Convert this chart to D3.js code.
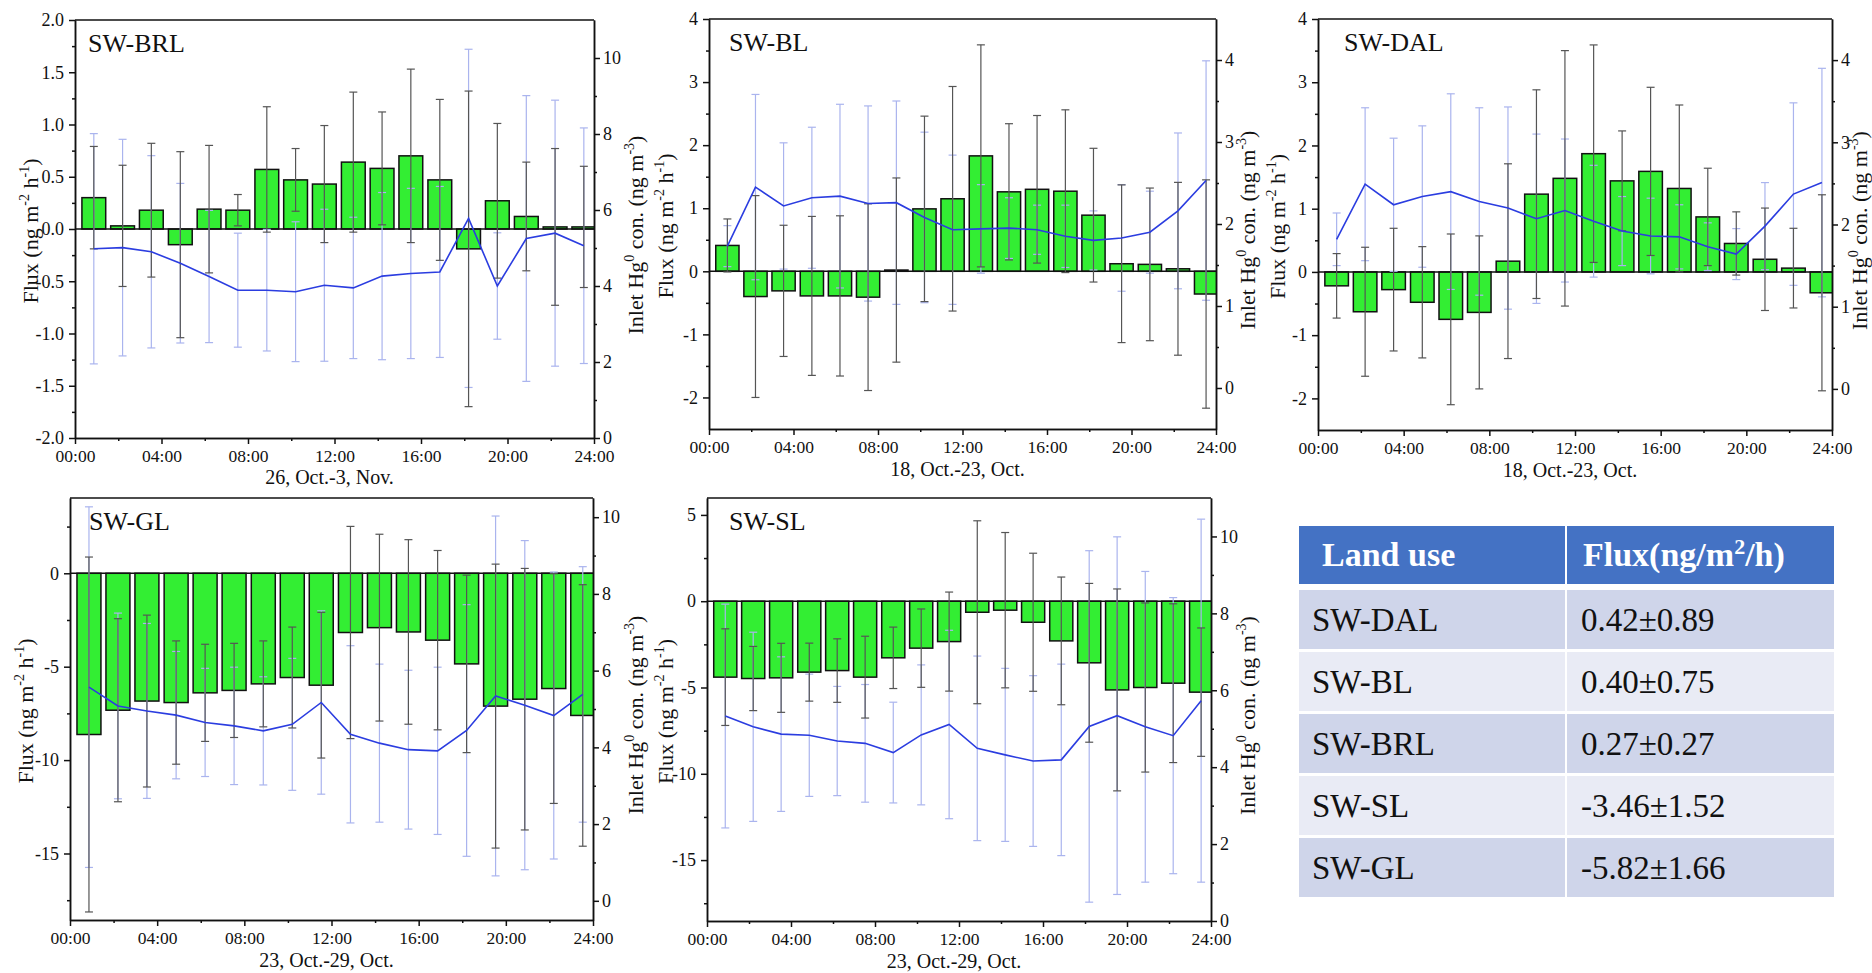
<!DOCTYPE html>
<html>
<head>
<meta charset="utf-8">
<script src="https://cdn.jsdelivr.net/npm/d3@7"></script>
<style>
  body { margin: 0; background: #fff; }
  svg text { font-family: "Liberation Serif", "Times New Roman", serif; }
</style>
</head>
<body>
<div id="chart"></div>
<script>
// hour of day at the centre of each averaging bin
var hours = [0.87, 2.2, 3.53, 4.87, 6.2, 7.53, 8.87, 10.2, 11.53, 12.87, 14.2, 15.53, 16.87, 18.2, 19.53, 20.87, 22.2, 23.53];
var timeTicks = [0, 4, 8, 12, 16, 20, 24];
var timeLabels = ["00:00", "04:00", "08:00", "12:00", "16:00", "20:00", "24:00"];

// SW-BRL
var brlFlux = [0.30, 0.03, 0.18, -0.15, 0.19, 0.18, 0.57, 0.47, 0.43, 0.64, 0.58, 0.70, 0.47, -0.19, 0.27, 0.12, 0.02, 0.02];
var brlFluxSd = [0.49, 0.58, 0.64, 0.89, 0.61, 0.15, 0.60, 0.30, 0.56, 0.67, 0.54, 0.83, 0.77, 1.51, 0.74, 0.52, 0.75, 0.58];
var brlConc = [4.98, 5.01, 4.90, 4.60, 4.25, 3.89, 3.89, 3.85, 4.02, 3.95, 4.26, 4.33, 4.37, 5.78, 4.00, 5.25, 5.39, 5.06];
var brlConcSd = [3.03, 2.85, 2.53, 2.10, 1.74, 1.50, 1.60, 1.84, 2.00, 1.86, 2.20, 2.24, 2.25, 4.45, 1.40, 3.76, 3.50, 3.10];

// SW-BL
var blFlux = [0.41, -0.40, -0.31, -0.39, -0.39, -0.41, 0.02, 0.99, 1.15, 1.83, 1.26, 1.30, 1.27, 0.89, 0.12, 0.11, 0.04, -0.36];
var blFluxSd = [0.42, 1.60, 1.04, 1.26, 1.27, 1.48, 1.46, 1.47, 1.78, 1.76, 1.08, 1.17, 1.29, 1.06, 1.25, 1.21, 1.37, 1.81];
var blConc = [1.73, 2.45, 2.22, 2.32, 2.34, 2.25, 2.26, 2.08, 1.93, 1.94, 1.95, 1.93, 1.85, 1.80, 1.83, 1.90, 2.16, 2.53];
var blConcSd = [0.25, 1.13, 0.77, 0.86, 1.12, 1.19, 1.24, 1.04, 0.91, 0.54, 0.37, 0.30, 0.38, 0.36, 0.65, 0.50, 0.95, 1.46];

// SW-DAL
var dalFlux = [-0.22, -0.63, -0.28, -0.48, -0.75, -0.64, 0.17, 1.23, 1.48, 1.87, 1.44, 1.59, 1.32, 0.87, 0.45, 0.20, 0.06, -0.33];
var dalFluxSd = [0.51, 1.02, 0.97, 0.88, 1.35, 1.21, 1.54, 1.65, 2.02, 1.72, 0.79, 1.33, 1.32, 0.77, 0.50, 0.81, 0.63, 1.55];
var dalConc = [1.82, 2.49, 2.24, 2.34, 2.40, 2.28, 2.20, 2.07, 2.17, 2.04, 1.92, 1.86, 1.85, 1.73, 1.64, 1.98, 2.37, 2.51];
var dalConcSd = [0.32, 0.93, 0.81, 0.86, 1.19, 1.14, 1.23, 1.03, 0.87, 0.68, 0.42, 0.46, 0.39, 0.29, 0.31, 0.53, 1.11, 1.39];

// SW-GL
var glFlux = [-8.63, -7.33, -6.84, -6.92, -6.40, -6.27, -5.92, -5.58, -5.99, -3.17, -2.91, -3.14, -3.58, -4.85, -7.11, -6.74, -6.17, -7.61];
var glFluxSd = [9.5, 4.9, 4.6, 3.3, 2.6, 2.52, 2.3, 2.7, 3.9, 5.68, 5.0, 4.94, 4.8, 4.75, 7.6, 7.0, 6.15, 7.0];
var glConc = [5.57, 5.08, 4.95, 4.84, 4.65, 4.56, 4.43, 4.60, 5.17, 4.34, 4.11, 3.94, 3.91, 4.44, 5.34, 5.10, 4.83, 5.38];
var glConcSd = [4.70, 2.42, 2.28, 1.66, 1.41, 1.53, 1.41, 1.72, 2.39, 2.31, 2.06, 2.07, 2.18, 3.28, 4.69, 4.29, 3.74, 3.33];

// SW-SL
var slFlux = [-4.40, -4.48, -4.44, -4.11, -4.02, -4.40, -3.28, -2.72, -2.34, -0.64, -0.52, -1.22, -2.30, -3.57, -5.14, -5.00, -4.75, -5.27];
var slFluxSd = [2.8, 1.86, 2.0, 1.68, 1.84, 2.37, 1.78, 2.27, 2.87, 5.3, 4.5, 4.0, 3.7, 4.6, 5.85, 4.9, 4.6, 3.72];
var slConc = [5.33, 5.05, 4.86, 4.83, 4.68, 4.62, 4.38, 4.84, 5.11, 4.49, 4.32, 4.16, 4.19, 5.06, 5.34, 5.05, 4.82, 5.73];
var slConcSd = [2.91, 2.46, 2.01, 1.59, 1.42, 1.53, 1.31, 1.82, 2.45, 2.40, 2.25, 2.22, 2.49, 4.57, 4.65, 4.04, 3.59, 4.72];

// summary table
var landUse = ["SW-DAL", "SW-BL", "SW-BRL", "SW-SL", "SW-GL"];
var meanFlux = ["0.42\u00b10.89", "0.40\u00b10.75", "0.27\u00b10.27", "-3.46\u00b11.52", "-5.82\u00b11.66"];

var barWidth = 1.1; // hours
var green = "#33ee33", lineBlue = "#2b3de0", fluxErr = "#555555", concErr = "#aab4ee";

var svg = d3.select("#chart")
    .append("svg")
    .attr("width", 1872)
    .attr("height", 973);

// rotated title with superscripts; parts: [text, isSuperscript]
function vLabel(x, y, parts) {
    var t = svg.append("text")
        .attr("transform", "translate(" + x + "," + y + ") rotate(-90)")
        .attr("text-anchor", "middle")
        .attr("font-size", 22)
        .attr("fill", "#111");
    var up = false;
    parts.forEach(function (p) {
        var s = t.append("tspan").text(p[0]);
        if (p[1] && !up) { s.attr("dy", -9).attr("font-size", 14); up = true; }
        else if (p[1]) { s.attr("font-size", 14); }
        else if (up) { s.attr("dy", 9); up = false; }
    });
}
var fluxTitle = [["Flux (ng m"], ["-2", 1], [" h"], ["-1", 1], [")"]];
var concTitle = [["Inlet Hg"], ["0", 1], [" con. (ng m"], ["-3", 1], [")"]];

function styleAxis(g, size) {
    g.attr("font-family", "Liberation Serif, serif").attr("font-size", size);
    g.selectAll("path, line").attr("stroke", "#111").attr("stroke-width", 1.5);
    g.selectAll("text").attr("fill", "#111");
}

function drawPanel(p) {
    var x = d3.scaleLinear().domain([0, 24]).range([p.left, p.right]);
    var y = d3.scaleLinear().domain(p.yDomain).range([p.bottom, p.top]);
    var y2 = d3.scaleLinear().domain(p.y2Domain).range([p.bottom, p.top]);

    svg.append("clipPath").attr("id", "clip-" + p.id)
        .append("rect")
        .attr("x", p.left).attr("y", p.top)
        .attr("width", p.right - p.left).attr("height", p.bottom - p.top);

    var plot = svg.append("g").attr("clip-path", "url(#clip-" + p.id + ")");

    // bars
    plot.selectAll("rect.bar")
        .data(p.flux)
        .enter()
        .append("rect")
        .attr("class", "bar")
        .attr("x", function (d, i) { return x(hours[i] - barWidth / 2); })
        .attr("width", x(barWidth) - x(0))
        .attr("y", function (d) { return y(Math.max(0, d)); })
        .attr("height", function (d) { return Math.abs(y(d) - y(0)); })
        .attr("fill", green)
        .attr("stroke", "#111")
        .attr("stroke-width", 1.5);

    // zero line
    plot.append("line")
        .attr("x1", p.left).attr("x2", p.right)
        .attr("y1", y(0)).attr("y2", y(0))
        .attr("stroke", "#111").attr("stroke-width", 1.5);

    // error bars: concentration (light blue) then flux (dark)
    function errorBars(vals, sds, scale, color) {
        var eg = plot.append("g").attr("stroke", color).attr("stroke-width", 1.2).attr("fill", "none");
        vals.forEach(function (v, i) {
            var cx = x(hours[i]), lo = scale(v - sds[i]), hi = scale(v + sds[i]);
            eg.append("line").attr("x1", cx).attr("x2", cx).attr("y1", lo).attr("y2", hi);
            eg.append("line").attr("x1", cx - 4).attr("x2", cx + 4).attr("y1", lo).attr("y2", lo);
            eg.append("line").attr("x1", cx - 4).attr("x2", cx + 4).attr("y1", hi).attr("y2", hi);
        });
    }
    errorBars(p.conc, p.concSd, y2, concErr);
    errorBars(p.flux, p.fluxSd, y, fluxErr);

    // concentration line
    var line = d3.line()
        .x(function (d, i) { return x(hours[i]); })
        .y(function (d) { return y2(d); });
    plot.append("path")
        .datum(p.conc)
        .attr("d", line)
        .attr("fill", "none")
        .attr("stroke", lineBlue)
        .attr("stroke-width", 1.6);

    // axes
    var fmt = d3.format(p.yFormat);
    var ax = svg.append("g").attr("transform", "translate(" + p.left + ",0)")
        .call(d3.axisLeft(y).tickValues(p.yTicks).tickSize(6).tickPadding(5).tickSizeOuter(0)
            .tickFormat(function (d) { return fmt(d).replace("\u2212", "-"); }));
    styleAxis(ax, 18);
    var axm = svg.append("g").attr("transform", "translate(" + p.left + ",0)")
        .call(d3.axisLeft(y).tickValues(p.yMinor).tickSize(3).tickFormat("").tickSizeOuter(0));
    styleAxis(axm, 18);

    var ar = svg.append("g").attr("transform", "translate(" + p.right + ",0)")
        .call(d3.axisRight(y2).tickValues(p.y2Ticks).tickSize(6).tickPadding(3).tickSizeOuter(0)
            .tickFormat(d3.format("d")));
    styleAxis(ar, 18);
    var arm = svg.append("g").attr("transform", "translate(" + p.right + ",0)")
        .call(d3.axisRight(y2).tickValues(p.y2Minor).tickSize(3).tickFormat("").tickSizeOuter(0));
    styleAxis(arm, 18);

    var axb = svg.append("g").attr("transform", "translate(0," + p.bottom + ")")
        .call(d3.axisBottom(x).tickValues(timeTicks).tickSize(6).tickPadding(6).tickSizeOuter(0)
            .tickFormat(function (d, i) { return timeLabels[i]; }));
    styleAxis(axb, 17.5);
    var axbm = svg.append("g").attr("transform", "translate(0," + p.bottom + ")")
        .call(d3.axisBottom(x).tickValues([2, 6, 10, 14, 18, 22]).tickSize(3).tickFormat("").tickSizeOuter(0));
    styleAxis(axbm, 18);

    // top frame
    svg.append("line")
        .attr("x1", p.left).attr("x2", p.right)
        .attr("y1", p.top).attr("y2", p.top)
        .attr("stroke", "#111").attr("stroke-width", 1.5);

    // titles
    svg.append("text")
        .attr("x", p.left + p.titleDx).attr("y", p.top + 32)
        .attr("font-size", 26).attr("fill", "#111")
        .text(p.name);

    svg.append("text")
        .attr("x", (p.left + p.right) / 2 - 5).attr("y", p.periodY)
        .attr("text-anchor", "middle")
        .attr("font-size", 20).attr("fill", "#111")
        .text(p.period);

    vLabel(p.fluxLabelX, (p.top + p.bottom) / 2 + 2, fluxTitle);
    vLabel(p.concLabelX, (p.top + p.bottom) / 2 + 6, concTitle);
}

var panels = [
    { id: "brl", name: "SW-BRL", period: "26, Oct.-3, Nov.", periodY: 484,
      flux: brlFlux, fluxSd: brlFluxSd, conc: brlConc, concSd: brlConcSd,
      left: 75, right: 594, top: 20, bottom: 438, titleDx: 13,
      yDomain: [-2, 2], yTicks: [-2, -1.5, -1, -0.5, 0, 0.5, 1, 1.5, 2],
      yMinor: [-1.75, -1.25, -0.75, -0.25, 0.25, 0.75, 1.25, 1.75], yFormat: ".1f",
      y2Domain: [0, 11], y2Ticks: [0, 2, 4, 6, 8, 10], y2Minor: [1, 3, 5, 7, 9],
      fluxLabelX: 38, concLabelX: 643 },
    { id: "bl", name: "SW-BL", period: "18, Oct.-23, Oct.", periodY: 476,
      flux: blFlux, fluxSd: blFluxSd, conc: blConc, concSd: blConcSd,
      left: 709, right: 1216, top: 19, bottom: 429, titleDx: 20,
      yDomain: [-2.5, 4], yTicks: [-2, -1, 0, 1, 2, 3, 4],
      yMinor: [-1.5, -0.5, 0.5, 1.5, 2.5, 3.5], yFormat: "d",
      y2Domain: [-0.5, 4.5], y2Ticks: [0, 1, 2, 3, 4], y2Minor: [0.5, 1.5, 2.5, 3.5],
      fluxLabelX: 673, concLabelX: 1255 },
    { id: "dal", name: "SW-DAL", period: "18, Oct.-23, Oct.", periodY: 477,
      flux: dalFlux, fluxSd: dalFluxSd, conc: dalConc, concSd: dalConcSd,
      left: 1318, right: 1832, top: 19, bottom: 430, titleDx: 26,
      yDomain: [-2.5, 4], yTicks: [-2, -1, 0, 1, 2, 3, 4],
      yMinor: [-1.5, -0.5, 0.5, 1.5, 2.5, 3.5], yFormat: "d",
      y2Domain: [-0.5, 4.5], y2Ticks: [0, 1, 2, 3, 4], y2Minor: [0.5, 1.5, 2.5, 3.5],
      fluxLabelX: 1285, concLabelX: 1867 },
    { id: "gl", name: "SW-GL", period: "23, Oct.-29, Oct.", periodY: 967,
      flux: glFlux, fluxSd: glFluxSd, conc: glConc, concSd: glConcSd,
      left: 70, right: 593, top: 498, bottom: 920, titleDx: 19,
      yDomain: [-18.56, 4.03], yTicks: [-15, -10, -5, 0],
      yMinor: [-17.5, -12.5, -7.5, -2.5, 2.5], yFormat: "d",
      y2Domain: [-0.5, 10.5], y2Ticks: [0, 2, 4, 6, 8, 10], y2Minor: [1, 3, 5, 7, 9],
      fluxLabelX: 33, concLabelX: 643 },
    { id: "sl", name: "SW-SL", period: "23, Oct.-29, Oct.", periodY: 968,
      flux: slFlux, fluxSd: slFluxSd, conc: slConc, concSd: slConcSd,
      left: 707, right: 1211, top: 498, bottom: 921, titleDx: 22,
      yDomain: [-18.53, 5.98], yTicks: [-15, -10, -5, 0, 5],
      yMinor: [-17.5, -12.5, -7.5, -2.5, 2.5], yFormat: "d",
      y2Domain: [0, 11], y2Ticks: [0, 2, 4, 6, 8, 10], y2Minor: [1, 3, 5, 7, 9],
      fluxLabelX: 673, concLabelX: 1255 }
];

panels.forEach(drawPanel);

// summary table
var colX = [1299, 1567], colW = [266, 267];
var head = svg.append("g");
colX.forEach(function (cx, i) {
    head.append("rect")
        .attr("x", cx).attr("y", 526)
        .attr("width", colW[i]).attr("height", 58)
        .attr("fill", "#4472c4");
});
head.append("text")
    .attr("x", 1322).attr("y", 566)
    .attr("font-size", 34).attr("font-weight", "bold").attr("fill", "#fff")
    .text("Land use");
var fh = head.append("text")
    .attr("x", 1583).attr("y", 566)
    .attr("font-size", 34).attr("font-weight", "bold").attr("fill", "#fff");
fh.append("tspan").text("Flux(ng/m");
fh.append("tspan").attr("dy", -12).attr("font-size", 22).text("2");
fh.append("tspan").attr("dy", 12).text("/h)");

var rowFill = ["#cfd5ea", "#e9ebf5"];
var rows = svg.append("g").selectAll("g")
    .data(landUse)
    .enter()
    .append("g")
    .attr("transform", function (d, i) { return "translate(0," + (590 + i * 62) + ")"; });
rows.append("rect")
    .attr("x", colX[0]).attr("width", colW[0]).attr("height", 59)
    .attr("fill", function (d, i) { return rowFill[i % 2]; });
rows.append("rect")
    .attr("x", colX[1]).attr("width", colW[1]).attr("height", 59)
    .attr("fill", function (d, i) { return rowFill[i % 2]; });
rows.append("text")
    .attr("x", 1312).attr("y", 41)
    .attr("font-size", 33).attr("fill", "#111")
    .text(function (d) { return d; });
rows.append("text")
    .attr("x", 1581).attr("y", 41)
    .attr("font-size", 33).attr("fill", "#111")
    .text(function (d, i) { return meanFlux[i]; });
</script>
</body>
</html>
